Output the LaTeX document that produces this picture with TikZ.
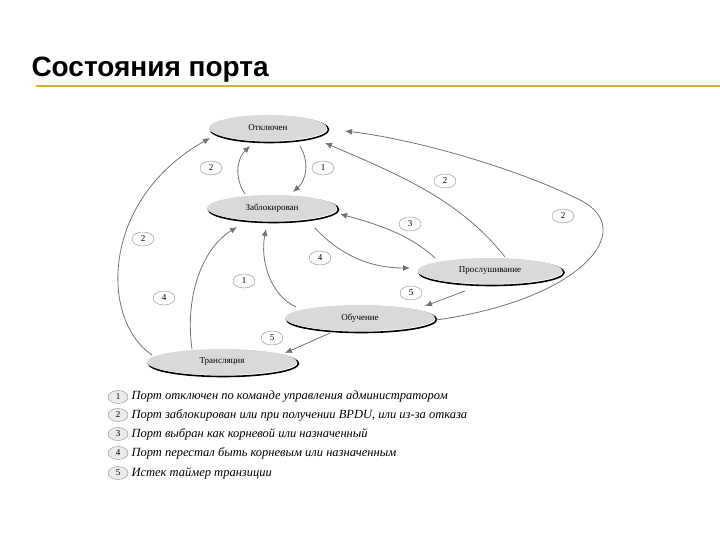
\documentclass[tikz,border=0pt]{standalone}
\usepackage{fontspec}
\setmainfont{Liberation Serif}
\newfontfamily\titlefont{Liberation Sans}
\usetikzlibrary{shapes.geometric,arrows.meta}
\begin{document}
\begin{tikzpicture}[x=1pt,y=-1pt,
  st/.style={ellipse,fill=black!15,minimum height=26pt,inner sep=0pt,font=\small,
    preaction={draw=black,line width=1.6pt,transform canvas={xshift=1.5pt,yshift=-1.5pt},fill=none}},
  num/.style={ellipse,draw=black!45,fill=white,minimum width=22pt,minimum height=14pt,inner sep=0pt,font=\small},
  tr/.style={draw=black!55,line width=0.8pt,-{Latex[length=7pt,width=6pt]}},
  leg/.style={anchor=west,font=\fontsize{12.5}{14}\selectfont\itshape}]
\useasboundingbox (0,0) rectangle (720,540);
\node[anchor=west,font=\titlefont\bfseries\fontsize{28}{32}\selectfont] (title) at (28,70) {Состояния порта};
\draw[draw={rgb,255:red,214;green,176;blue,46},line width=1.2pt] (36,86) -- (720,86);
\node[st,minimum width=118pt] (off) at (268,128) {Отключен};
\node[st,minimum width=130pt] (blk) at (272,208) {Заблокирован};
\node[st,minimum width=145pt] (lis) at (490,271) {Прослушивание};
\node[st,minimum width=150pt] (lrn) at (360,318) {Обучение};
\node[st,minimum width=150pt] (fwd) at (222,362) {Трансляция};
\coordinate (offa) at (300,146); \coordinate (blka) at (293,192);
\coordinate (blkb) at (245,194); \coordinate (offb) at (250,146);
\draw[tr] (offa) to[bend left=40] (blka);
\draw[tr] (blkb) to[bend left=40] (offb);
\coordinate (lisa) at (505,257); \coordinate (offc) at (325,143);
\draw[tr] (lisa) .. controls (460,200) and (400,175) .. (offc);
\coordinate (lrna) at (436,320); \coordinate (offd) at (345,131);
\draw[tr] (lrna) .. controls (580,300) and (640,230) .. (580,200) .. controls (520,170) and (420,140) .. (offd);
\coordinate (fwda) at (152,355); \coordinate (offe) at (210,138);
\draw[tr] (fwda) .. controls (100,320) and (100,200) .. (offe);
\coordinate (lisb) at (435,258); \coordinate (blkc) at (340,214);
\draw[tr] (lisb) .. controls (410,235) and (380,225) .. (blkc);
\coordinate (blkd) at (315,228); \coordinate (lisc) at (410,268);
\draw[tr] (blkd) .. controls (340,255) and (370,268) .. (lisc);
\coordinate (lrnb) at (296,307); \coordinate (blke) at (266,229);
\draw[tr] (lrnb) .. controls (270,295) and (260,260) .. (blke);
\coordinate (fwdb) at (192,349); \coordinate (blkf) at (237,227);
\draw[tr] (fwdb) .. controls (185,300) and (200,250) .. (blkf);
\coordinate (lisd) at (465,291); \coordinate (lrnc) at (425,306);
\draw[tr] (lisd) -- (lrnc);
\coordinate (lrnd) at (330,333); \coordinate (fwdc) at (285,353);
\draw[tr] (lrnd) -- (fwdc);
\node[num] (n1) at (211,168) {2};
\node[num] (n2) at (323,168) {1};
\node[num] (n3) at (445,181) {2};
\node[num] (n4) at (563,216) {2};
\node[num] (n5) at (143,239) {2};
\node[num] (n6) at (410,224) {3};
\node[num] (n7) at (320,258) {4};
\node[num] (n8) at (244,281) {1};
\node[num] (n9) at (411,293) {5};
\node[num] (n10) at (164,298) {4};
\node[num] (n11) at (272,338) {5};
\foreach \i/\y/\t in {1/397/{Порт отключен по команде управления администратором},
  2/415/{Порт заблокирован или при получении BPDU, или из-за отказа},
  3/434/{Порт выбран как корневой или назначенный},
  4/453/{Порт перестал быть корневым или назначенным},
  5/473/{Истек таймер транзиции}}{
  \node[num,minimum width=20pt,minimum height=13pt,fill=black!8] (b\i) at (118,\y) {\i};
  \node[leg] (l\i) at (128,\y) {\t};
}
\end{tikzpicture}
\end{document}
